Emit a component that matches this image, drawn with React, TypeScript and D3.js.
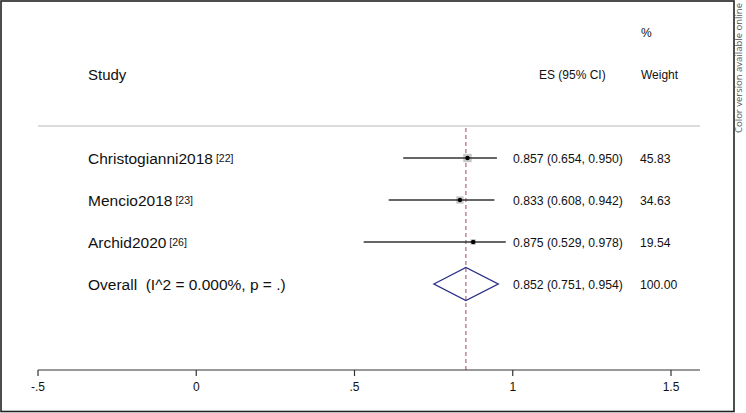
import React from "react";
import * as d3 from "d3";

const studies = ["Christogianni2018", "Mencio2018", "Archid2020"];
const refs = ["[22]", "[23]", "[26]"];
const es = [0.857, 0.833, 0.875];
const lo = [0.654, 0.608, 0.529];
const hi = [0.95, 0.942, 0.978];
const weights = [45.83, 34.63, 19.54];
const overallLabel = "Overall  (I^2 = 0.000%, p = .)";
const overall = { es: 0.852, lo: 0.751, hi: 0.954, weight: 100.0 };
const xTicks = [-0.5, 0, 0.5, 1, 1.5];

const W = 746;
const H = 413;
const FONT = "'Liberation Sans', Arial, Helvetica, sans-serif";

function fmtTick(v: number) {
  const s = String(v);
  return s.replace(/^0\./, ".").replace(/^-0\./, "-.");
}

export default function App() {
  const x = d3.scaleLinear().domain([-0.5, 1.5]).range([38, 671]);
  const rows = [...studies.map((_, i) => "s" + i), "overall"];
  const y = d3.scalePoint<string>().domain(rows).range([158, 284]);
  const axisY = 370;
  const maxW = d3.max(weights) as number;
  const side = d3.scaleSqrt().domain([0, maxW]).range([0, 8.5]);
  const f3 = d3.format(".3f");
  const f2 = d3.format(".2f");

  const dy = y("overall") as number;
  const dh = 16.5;
  const diamond = [
    [x(overall.lo), dy],
    [x(overall.es), dy - dh],
    [x(overall.hi), dy],
    [x(overall.es), dy + dh],
  ];

  return (
    <svg
      width={W}
      height={H}
      style={{ position: "absolute", left: 0, top: 0, background: "#fff" }}
      fontFamily={FONT}
    >
      <rect x={1} y={1} width={733} height={410.5} fill="#fff" stroke="#222" strokeWidth={1.6} />
      <text
        transform={`translate(742,68) rotate(-90)`}
        textAnchor="middle"
        fontSize={9.5}
        fill="#555"
        fontFamily="'Open Sans', 'Noto Sans', sans-serif"
      >
        Color version available online
      </text>

      {/* headers */}
      <text x={88} y={80} fontSize={15} fill="#111">Study</text>
      <text x={539} y={79} fontSize={12} fill="#111">ES (95% CI)</text>
      <text x={641} y={37} fontSize={12} fill="#111">%</text>
      <text x={641} y={79} fontSize={12} fill="#111">Weight</text>

      <line x1={38} x2={700} y1={126} y2={126} stroke="#dcdcdc" strokeWidth={2} />

      {/* overall effect dashed line */}
      <line
        x1={x(overall.es)}
        x2={x(overall.es)}
        y1={128}
        y2={axisY}
        stroke="#a3455e"
        strokeWidth={1}
        strokeDasharray="4,3"
      />

      {studies.map((s, i) => {
        const cy = y("s" + i) as number;
        const sd = side(weights[i]);
        return (
          <g key={s}>
            <text x={88} y={cy + 5.5} fontSize={15.5} fill="#111">
              {s}
              <tspan fontSize={10.5} dy={-2}> {refs[i]}</tspan>
            </text>
            <rect x={x(es[i]) - sd / 2} y={cy - sd / 2} width={sd} height={sd} fill="#c8c8c8" />
            <line x1={x(lo[i])} x2={x(hi[i])} y1={cy} y2={cy} stroke="#333" strokeWidth={1.3} />
            <circle cx={x(es[i])} cy={cy} r={2.2} fill="#000" />
            <text x={513} y={cy + 5} fontSize={12.2} fill="#111">
              {`${f3(es[i])} (${f3(lo[i])}, ${f3(hi[i])})`}
            </text>
            <text x={640} y={cy + 5} fontSize={12.2} fill="#111">{f2(weights[i])}</text>
          </g>
        );
      })}

      <text x={88} y={dy + 5.5} fontSize={15.5} fill="#111" style={{ whiteSpace: "pre" }}>
        {overallLabel}
      </text>
      <polygon
        points={diamond.map((p) => p.join(",")).join(" ")}
        fill="none"
        stroke="#2e2e8a"
        strokeWidth={1.4}
      />
      <text x={513} y={dy + 5} fontSize={12.2} fill="#111">
        {`${f3(overall.es)} (${f3(overall.lo)}, ${f3(overall.hi)})`}
      </text>
      <text x={640} y={dy + 5} fontSize={12.2} fill="#111">{f2(overall.weight)}</text>

      {/* axis */}
      <line x1={x(-0.5)} x2={700} y1={axisY} y2={axisY} stroke="#333" strokeWidth={1.2} />
      {xTicks.map((t) => (
        <g key={t}>
          <line x1={x(t)} x2={x(t)} y1={axisY} y2={axisY + 6} stroke="#333" strokeWidth={1.2} />
          <text x={x(t)} y={axisY + 21} textAnchor="middle" fontSize={12} fill="#111">
            {fmtTick(t)}
          </text>
        </g>
      ))}
    </svg>
  );
}
